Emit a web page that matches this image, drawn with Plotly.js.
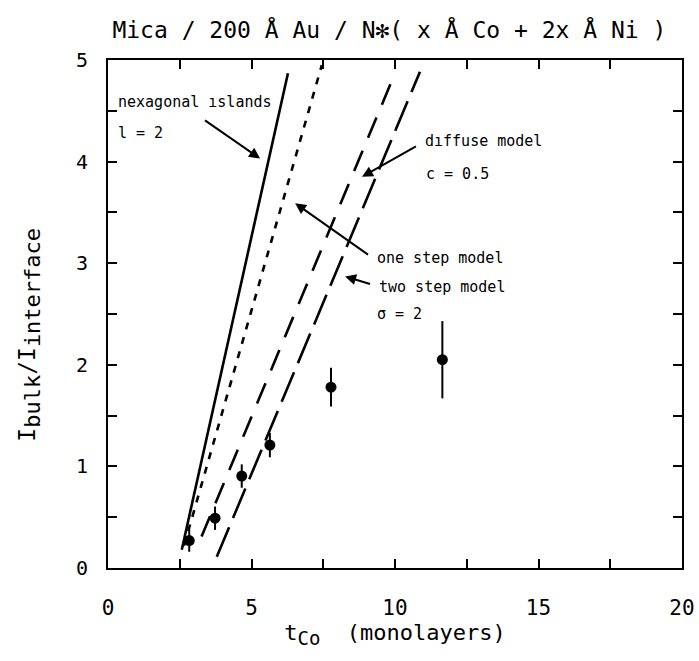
<!DOCTYPE html>
<html>
<head>
<meta charset="utf-8">
<script src="https://cdn.plot.ly/plotly-3.0.1.min.js"></script>
<style>html,body{margin:0;padding:0;background:#fff;}#chart{width:699px;height:661px;}</style>
</head>
<body>
<div id="chart"></div>
<script>
// Measured data points
var tCo = [2.83, 3.73, 4.66, 5.64, 7.77, 11.65];
var ratio = [0.27, 0.49, 0.905, 1.21, 1.78, 2.05];
var ratioErr = [0.11, 0.115, 0.115, 0.12, 0.19, 0.38];

// Model curves (end points)
var hexX = [2.57, 6.27];   var hexY = [0.18, 4.87];
var oneX = [2.65, 7.45];   var oneY = [0.22, 4.95];
var diffX = [3.26, 10.0];  var diffY = [0.31, 4.87];
var twoX = [3.79, 10.87];  var twoY = [0.11, 4.885];

// Axis ticks
var xTicks = [0, 5, 10, 15, 20];
var yTicks = [0, 1, 2, 3, 4, 5];

var F = "DejaVu Sans Mono, monospace";

var traces = [
  {x: hexX, y: hexY, mode: 'lines', line: {color: '#000', width: 2.6, dash: 'solid'}, hoverinfo: 'none'},
  {x: oneX, y: oneY, mode: 'lines', line: {color: '#000', width: 2.6, dash: '7px,8px'}, hoverinfo: 'none'},
  {x: diffX, y: diffY, mode: 'lines', line: {color: '#000', width: 2.6, dash: '22px,14px'}, hoverinfo: 'none'},
  {x: twoX, y: twoY, mode: 'lines', line: {color: '#000', width: 2.6, dash: '32px,10px'}, hoverinfo: 'none'},
  {x: tCo, y: ratio, mode: 'markers', marker: {color: '#000', size: 11},
   error_y: {type: 'data', array: ratioErr, visible: true, color: '#000', thickness: 2, width: 0}}
];

function txt(t, x, y) {
  return {text: t, x: x, y: y, xref: 'x', yref: 'y', showarrow: false, xanchor: 'left', yanchor: 'middle',
          font: {family: F, size: 15, color: '#000'}};
}
function arr(hx, hy, tx, ty) {
  return {text: ' ', font: {size: 2}, x: hx, y: hy, ax: tx, ay: ty, xref: 'x', yref: 'y', axref: 'x', ayref: 'y',
          showarrow: true, arrowhead: 2, arrowsize: 1.1, arrowwidth: 2, arrowcolor: '#000'};
}

var layout = {
  width: 699, height: 661,
  margin: {l: 108, r: 17, t: 60, b: 93},
  paper_bgcolor: '#fff', plot_bgcolor: '#fff',
  showlegend: false,
  title: {text: 'Mica / 200 Å Au / N✻( x Å Co + 2x Å Ni )', font: {family: F, size: 23, color: '#000'},
          x: 0.557, xanchor: 'center', xref: 'container', y: 0.955, yref: 'container', yanchor: 'middle'},
  xaxis: {
    range: [0, 20], tickvals: xTicks, ticktext: xTicks.map(String),
    ticks: 'inside', ticklen: 9, tickwidth: 2, tickcolor: '#000',
    minor: {dtick: 2.5, tick0: 0, ticks: 'inside', ticklen: 9, tickwidth: 2, tickcolor: '#000', showgrid: false},
    showline: true, linewidth: 2, linecolor: '#000', mirror: 'ticks',
    showgrid: false, zeroline: false,
    tickfont: {family: F, size: 21, color: '#000'}, ticklabelstandoff: 20,
    title: {text: 't<sub><span style="font-size:19px">Co</span></sub>  (monolayers)', font: {family: F, size: 22, color: '#000'}, standoff: 5}
  },
  yaxis: {
    range: [0, 5], tickvals: yTicks, ticktext: yTicks.map(String),
    ticks: 'inside', ticklen: 9, tickwidth: 2, tickcolor: '#000',
    minor: {dtick: 0.5, tick0: 0, ticks: 'inside', ticklen: 9, tickwidth: 2, tickcolor: '#000', showgrid: false},
    showline: true, linewidth: 2, linecolor: '#000', mirror: 'ticks',
    showgrid: false, zeroline: false,
    tickfont: {family: F, size: 20, color: '#000'}, ticklabelstandoff: 14,
    title: {text: 'I<sub><span style="font-size:22px">bulk</span></sub>/I<sub><span style="font-size:22px">interface</span></sub>&nbsp;&nbsp;&nbsp;', font: {family: F, size: 23, color: '#000'}, standoff: 34}
  },
  annotations: [
    txt('nexagonal ıslands', 0.28, 4.59),
    txt('l = 2', 0.28, 4.28),
    txt('dıffuse model', 10.98, 4.20),
    txt('c = 0.5', 11.01, 3.88),
    txt('one step model', 9.30, 3.05),
    txt('two step model', 9.37, 2.77),
    txt('σ = 2', 9.30, 2.50),
    arr(5.30, 4.03, 3.31, 4.42),
    arr(8.85, 3.85, 10.80, 4.16),
    arr(6.52, 3.59, 9.13, 3.07),
    arr(8.26, 2.87, 9.20, 2.79)
  ]
};

Plotly.newPlot('chart', traces, layout, {displayModeBar: false, staticPlot: true});
</script>
</body>
</html>
